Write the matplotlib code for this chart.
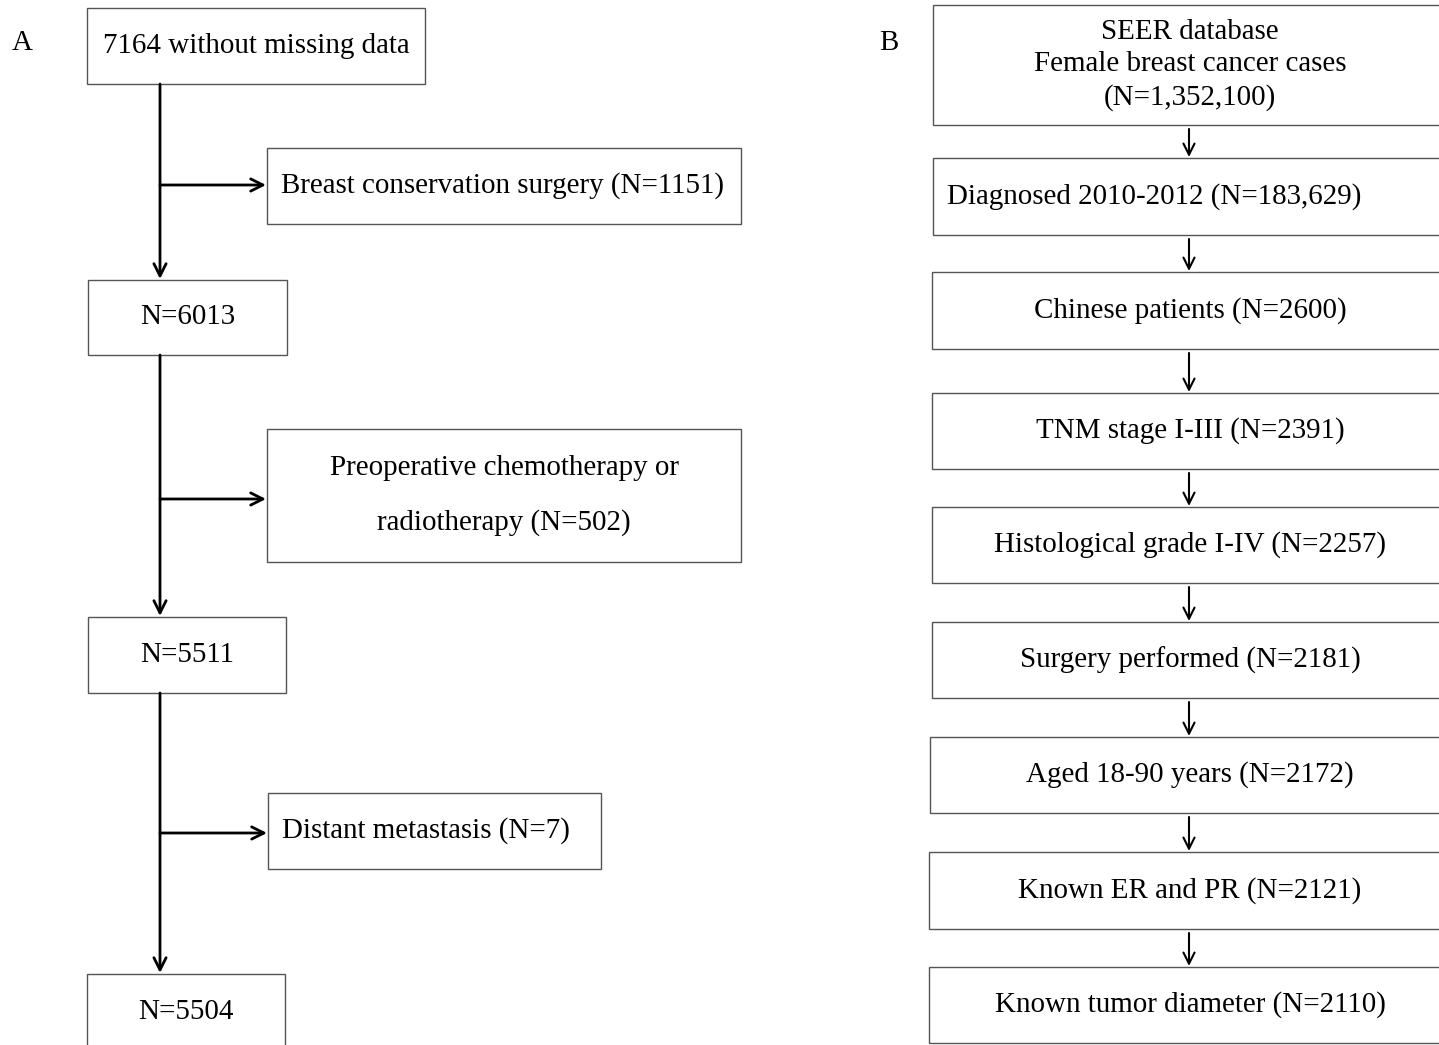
import matplotlib.pyplot as plt
from matplotlib.patches import Rectangle

plt.rcParams['font.family'] = ['Liberation Serif', 'DejaVu Serif']

# panel A: main flow and exclusions
main_a = ['7164 without missing data', 'N=6013', 'N=5511', 'N=5504']
excl_a = ['Breast conservation surgery (N=1151)',
          'Preoperative chemotherapy or\n\nradiotherapy (N=502)',
          'Distant metastasis (N=7)']

# panel B: selection steps
steps_b = ['SEER database\nFemale breast cancer cases\n(N=1,352,100)',
           'Diagnosed 2010-2012 (N=183,629)',
           'Chinese patients (N=2600)',
           'TNM stage I-III (N=2391)',
           'Histological grade I-IV (N=2257)',
           'Surgery performed (N=2181)',
           'Aged 18-90 years (N=2172)',
           'Known ER and PR (N=2121)',
           'Known tumor diameter (N=2110)']

# layout in pixel units (x0, y0, x1, y1)
main_a_box = [(87, 8, 425, 84), (88, 280, 287, 355), (88, 617, 286, 693), (87, 974, 285, 1060)]
excl_a_box = [(267, 148, 741, 224), (267, 429, 741, 562), (268, 793, 601, 869)]
excl_a_y = [185, 499, 833]
steps_b_box = [(933, 5, 1450, 125), (933, 158, 1450, 235), (932, 272, 1450, 349),
               (932, 393, 1450, 469), (932, 507, 1450, 583), (932, 622, 1450, 698),
               (930, 737, 1450, 813), (929, 852, 1450, 929), (929, 967, 1450, 1043)]

W, H = 1439, 1045
fig = plt.figure(figsize=(W / 100, H / 100), dpi=100)
ax = fig.add_axes([0, 0, 1, 1])
ax.set_xlim(0, W)
ax.set_ylim(H, 0)
ax.axis('off')

fs = 20.9
edge = '#555555'


def box(b, lw=1.0):
    x0, y0, x1, y1 = b
    ax.add_patch(Rectangle((x0, y0), x1 - x0, y1 - y0, fill=False,
                           edgecolor=edge, linewidth=lw, clip_on=True))


def arrow(x0, y0, x1, y1, lw, ms):
    ax.annotate('', xy=(x1, y1), xytext=(x0, y0),
                arrowprops=dict(arrowstyle='->', color='black', lw=lw,
                                mutation_scale=ms, shrinkA=0, shrinkB=0))


# panel A
ax.text(22, 43, 'A', fontsize=fs, ha='center', va='center')
for lab, b in zip(main_a, main_a_box):
    box(b)
    cy = (b[1] + b[3]) / 2 if b[3] < H else b[1] + 38
    ax.text((b[0] + b[2]) / 2, cy, lab, fontsize=fs, ha='center', va='center')

xm = 160
for i in range(3):
    arrow(xm, main_a_box[i][3], xm, main_a_box[i + 1][1] - 1, 2.0, 22)
for lab, b, y in zip(excl_a, excl_a_box, excl_a_y):
    box(b)
    arrow(xm, y, b[0] - 1, y, 2.0, 22)
    if '\n' in lab:
        ax.text((b[0] + b[2]) / 2, (b[1] + b[3]) / 2, lab, fontsize=fs,
                ha='center', va='center', linespacing=1.05)
    else:
        ax.text(b[0] + 14, (b[1] + b[3]) / 2, lab, fontsize=fs, ha='left', va='center')

# panel B
ax.text(889, 43, 'B', fontsize=fs, ha='center', va='center')
xb = 1189
for i, (lab, b) in enumerate(zip(steps_b, steps_b_box)):
    box(b)
    cy = (b[1] + b[3]) / 2
    if i == 1:
        ax.text(b[0] + 14, cy, lab, fontsize=fs, ha='left', va='center')
    else:
        ax.text(1190, cy, lab, fontsize=fs, ha='center', va='center', linespacing=1.3)
    if i > 0:
        arrow(xb, steps_b_box[i - 1][3] + 4, xb, b[1] - 1, 1.5, 20)

fig.savefig('out.png', dpi=100)
